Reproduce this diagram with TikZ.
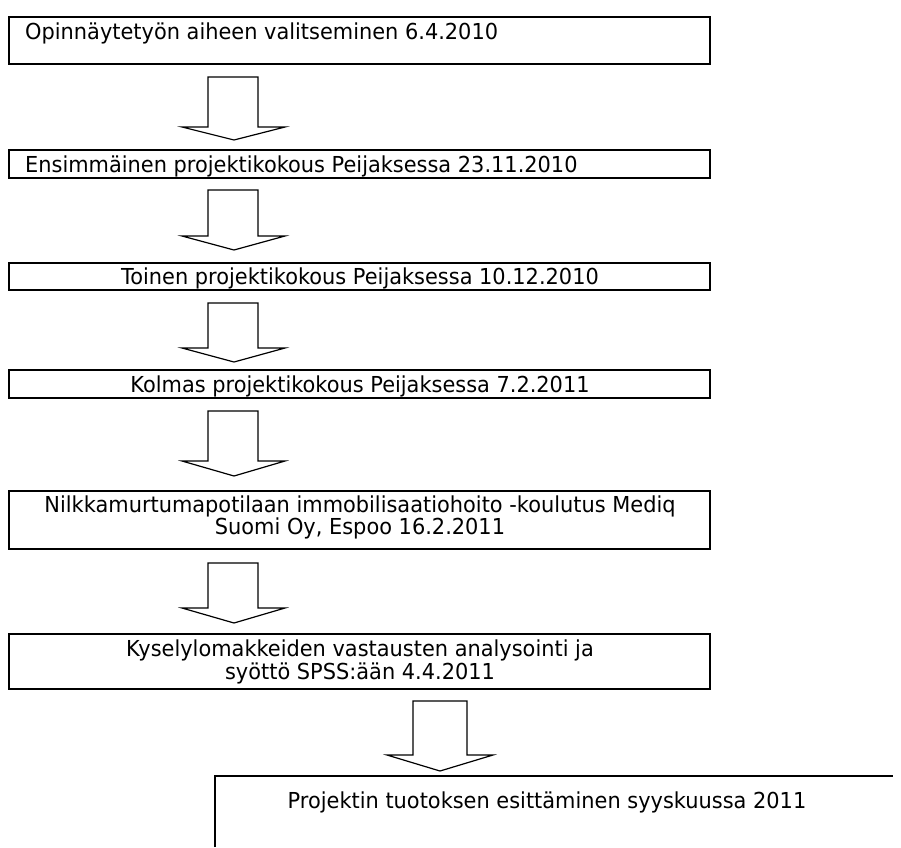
\documentclass[tikz,border=0pt]{standalone}
\usepackage{fontspec}
\setmainfont[FakeStretch=0.95]{DejaVu Sans}
\begin{document}
\begin{tikzpicture}[x=1pt,y=-1pt,
  boxst/.style={draw,line width=1.8pt,inner sep=0pt},
  txt/.style={inner sep=0pt,font=\fontsize{22}{24}\selectfont},
  barrowst/.style={draw,line width=1.2pt,line join=miter}]
\useasboundingbox (0,0) rectangle (901,847);
% boxes
\node[boxst,minimum width=701pt,minimum height=47pt] (b1) at (359.5,40.5) {};
\node[boxst,minimum width=701pt,minimum height=28pt] (b2) at (359.5,164) {};
\node[boxst,minimum width=701pt,minimum height=27pt] (b3) at (359.5,276.5) {};
\node[boxst,minimum width=701pt,minimum height=28pt] (b4) at (359.5,384) {};
\node[boxst,minimum width=701pt,minimum height=58pt] (b5) at (359.5,520) {};
\node[boxst,minimum width=701pt,minimum height=55pt] (b6) at (359.5,661.5) {};
\coordinate (b7a) at (215,847);
\coordinate (b7b) at (215,776);
\coordinate (b7c) at (893,776);
\draw[line width=1.8pt] (b7a) -- (b7b) -- (b7c);
% texts
\node[txt,anchor=base west] (t1) at (25,39) {Opinnäytetyön aiheen valitseminen 6.4.2010};
\node[txt,anchor=base west] (t2) at (25,172) {Ensimmäinen projektikokous Peijaksessa 23.11.2010};
\node[txt,anchor=base] (t3) at (360,284) {Toinen projektikokous Peijaksessa 10.12.2010};
\node[txt,anchor=base] (t4) at (360,392) {Kolmas projektikokous Peijaksessa 7.2.2011};
\node[txt,anchor=base] (t5a) at (360,512) {Nilkkamurtumapotilaan immobilisaatiohoito -koulutus Mediq};
\node[txt,anchor=base] (t5b) at (360,534) {Suomi Oy, Espoo 16.2.2011};
\node[txt,anchor=base] (t6a) at (360,656) {Kyselylomakkeiden vastausten analysointi ja};
\node[txt,anchor=base] (t6b) at (360,679) {syöttö SPSS:ään 4.4.2011};
\node[txt,anchor=base] (t7) at (547,808) {Projektin tuotoksen esittäminen syyskuussa 2011};
% block arrows
\draw[barrowst] (208,77) -- (258,77) -- (258,127) -- (285,127) -- (234,140) -- (182,127) -- (208,127) -- cycle;
\draw[barrowst] (208,190) -- (258,190) -- (258,236) -- (285,236) -- (234,250) -- (182,236) -- (208,236) -- cycle;
\draw[barrowst] (208,303) -- (258,303) -- (258,348) -- (285,348) -- (234,362) -- (182,348) -- (208,348) -- cycle;
\draw[barrowst] (208,411) -- (258,411) -- (258,461) -- (285,461) -- (234,476) -- (182,461) -- (208,461) -- cycle;
\draw[barrowst] (208,563) -- (258,563) -- (258,608) -- (285,608) -- (234,623) -- (182,608) -- (208,608) -- cycle;
\draw[barrowst] (413,701) -- (467,701) -- (467,755) -- (493,755) -- (440,771) -- (387,755) -- (413,755) -- cycle;
\end{tikzpicture}
\end{document}
